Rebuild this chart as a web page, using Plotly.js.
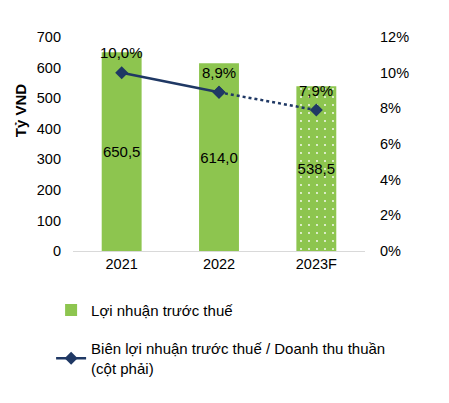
<!DOCTYPE html>
<html>
<head>
<meta charset="utf-8">
<script src="https://cdn.plot.ly/plotly-3.0.1.min.js"></script>
<style>
  html, body { margin: 0; padding: 0; background: #fff; }
  #plot { width: 449px; height: 403px; }
</style>
</head>
<body>
<div id="plot"></div>
<script>
// chart data
const years = ['2021', '2022', '2023F'];
const profit = [650.5, 614.0, 538.5];      // Tỷ VND
const margin = [0.100, 0.089, 0.079];      // right axis
const isForecast = [false, false, true];

const barName = 'Lợi nhuận trước thuế';
const lineName = 'Biên lợi nhuận trước thuế / Doanh thu thuần<br>(cột phải)';

const green = '#8dc54f';
const navy = '#1f3864';
const font = 'Arial, "Liberation Sans", sans-serif';

// bars, forecast year gets the dotted fill
const bars = {
  x: years,
  y: profit,
  type: 'bar',
  name: barName,
  width: 0.41,
  marker: {
    color: green,
    pattern: {
      shape: isForecast.map(f => f ? '.' : ''),
      fgcolor: '#ffffff',
      bgcolor: green,
      size: 8,
      solidity: 0.04
    }
  },
  texttemplate: '%{y:.1f}',
  textposition: 'inside',
  insidetextanchor: 'middle',
  textangle: 0,
  constraintext: 'none',
  textfont: { color: '#000', size: 15, family: font },
  hoverinfo: 'none',
  legendgroup: 'a'
};

// actual years -> solid line, forecast -> dotted
const lastActual = isForecast.indexOf(true) - 1;

const lineActual = {
  x: years.slice(0, lastActual + 1),
  y: margin.slice(0, lastActual + 1),
  yaxis: 'y2',
  type: 'scatter',
  mode: 'lines+markers',
  name: lineName,
  line: { color: navy, width: 2.5 },
  marker: { symbol: 'diamond', size: 10, color: navy },
  hoverinfo: 'none',
  legendgroup: 'b'
};

const lineForecast = {
  x: years.slice(lastActual),
  y: margin.slice(lastActual),
  yaxis: 'y2',
  type: 'scatter',
  mode: 'lines+markers',
  line: { color: navy, width: 2.5, dash: 'dot' },
  marker: { symbol: 'diamond', size: 10, color: navy },
  hoverinfo: 'none',
  showlegend: false
};

// margin labels above the points (x = category index)
const marginLabels = years.map((yr, i) => ({
  x: i,
  y: margin[i],
  yref: 'y2',
  text: (margin[i] * 100).toFixed(1).replace('.', ',') + '%',
  showarrow: false,
  yshift: 20,
  font: { size: 15, color: '#000', family: font }
}));

const layout = {
  width: 449,
  height: 403,
  margin: { l: 73, r: 84, t: 37, b: 152 },
  paper_bgcolor: '#fff',
  plot_bgcolor: '#fff',
  separators: ',.',
  font: { family: font, size: 14, color: '#000' },
  bargap: 0.59,
  xaxis: {
    type: 'category',
    range: [-0.5, years.length - 0.5],
    showgrid: false,
    showline: true,
    linecolor: '#d9d9d9',
    linewidth: 1,
    ticks: '',
    tickfont: { size: 14.5 }
  },
  yaxis: {
    range: [0, 700],
    dtick: 100,
    showgrid: false,
    zeroline: false,
    showline: false,
    ticks: '',
    ticklabelstandoff: 11,
    tickfont: { size: 14.5 }
  },
  yaxis2: {
    overlaying: 'y',
    side: 'right',
    range: [0, 0.12],
    dtick: 0.02,
    tickformat: '.0%',
    showgrid: false,
    zeroline: false,
    showline: false,
    ticks: '',
    ticklabelstandoff: 14,
    tickfont: { size: 14.5 }
  },
  showlegend: true,
  legend: {
    orientation: 'v',
    x: -0.075,
    xanchor: 'left',
    y: -0.2,
    yanchor: 'top',
    traceorder: 'grouped',
    tracegroupgap: 16,
    font: { size: 15, family: font },
    itemwidth: 30
  },
  annotations: [
    {
      text: '<b>Tỷ VND</b>',
      xref: 'paper', yref: 'paper',
      x: -0.18, y: 0.66,
      xanchor: 'center', yanchor: 'middle',
      textangle: -90,
      showarrow: false,
      font: { size: 15, family: font, color: '#000' }
    },
    ...marginLabels
  ]
};

Plotly.newPlot('plot', [bars, lineActual, lineForecast], layout, { displayModeBar: false, staticPlot: true });
</script>
</body>
</html>
